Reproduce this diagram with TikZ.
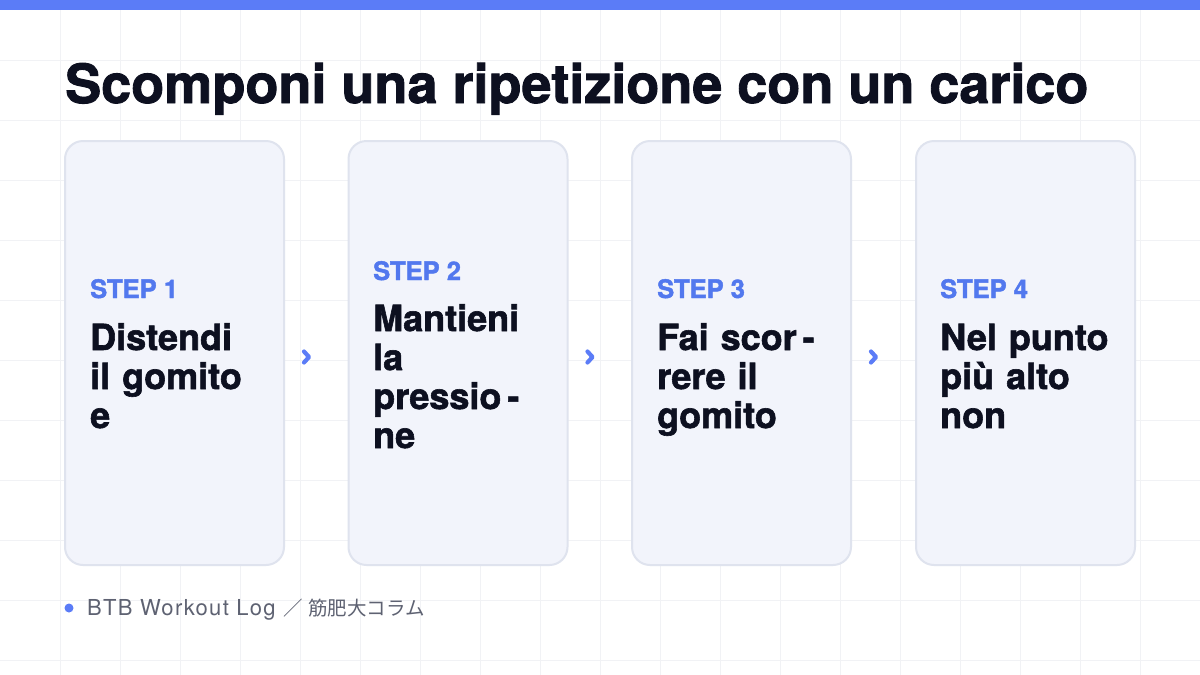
\documentclass[tikz,border=0pt]{standalone}
\usepackage{fontspec}
\setmainfont{TeX Gyre Heros}[BoldFeatures={FakeBold=1.6}]
\newfontfamily\footfont{TeX Gyre Heros}[LetterSpace=6]
\newfontfamily\cjkfont{Noto Sans CJK JP}
\usetikzlibrary{calc}
\definecolor{topblue}{HTML}{5B7CF7}
\definecolor{stepblue}{HTML}{5278EE}
\definecolor{titleink}{HTML}{0D1020}
\definecolor{cardfill}{HTML}{F2F4FB}
\definecolor{cardline}{HTML}{DFE3EE}
\definecolor{gridline}{HTML}{F1F2F5}
\definecolor{footink}{HTML}{5E6272}
\tikzset{
  card/.style={draw=cardline, line width=2pt, fill=cardfill, rounded corners=18pt,
    minimum width=219pt, minimum height=424pt, inner sep=0pt},
  steplabel/.style={anchor=base west, inner sep=0pt, text=stepblue,
    font=\fontsize{25.5}{28}\selectfont\bfseries},
  stepbody/.style={anchor=base west, inner sep=0pt, text=titleink, text width=210pt,
    align=left, font=\fontsize{36}{39}\selectfont\bfseries},
  chev/.style={draw=topblue, line width=4.2pt, line cap=round, line join=round},
}
\begin{document}
\begin{tikzpicture}[x=1pt,y=-1pt]
\useasboundingbox (0,0) rectangle (1200,675);
\fill[white] (0,0) rectangle (1200,675);
% grid
\foreach \gx in {60,120,...,1180} \draw[gridline, line width=0.8pt] (\gx,10) -- (\gx,675);
\foreach \gy in {60,120,...,660} \draw[gridline, line width=0.8pt] (0,\gy) -- (1200,\gy);
% top bar
\fill[topblue] (0,0) rectangle (1200,10);
% title
\node[anchor=base west, inner sep=0pt, text=titleink, font=\fontsize{54}{60}\selectfont\bfseries]
  (title) at (65,103) {Scomponi una ripetizione con un carico};
% cards
\foreach \i/\cx in {1/174.5,2/458,3/741.5,4/1025.5}
  \node[card] (c\i) at (\cx,353) {};
% texts
\node[steplabel] (s1) at (90,298) {STEP 1};
\node[stepbody] (b1) at (90,350) {Distendi\\il gomito\\e};
\node[steplabel] (s2) at (373,280) {STEP 2};
\node[stepbody] (b2) at (373,331) {Mantieni\\la\\pressio\,-\\ne};
\node[steplabel] (s3) at (657,298) {STEP 3};
\node[stepbody] (b3) at (657,350) {Fai scor\,-\\rere il\\gomito};
\node[steplabel] (s4) at (940,298) {STEP 4};
\node[stepbody] (b4) at (940,350) {Nel punto\\più alto\\non};
% chevrons
\foreach \i in {1,2,3} {
  \coordinate (k\i) at ($(c\i.east)+(24,4)$);
  \draw[chev] ($(k\i)+(-5,-5.5)$) -- (k\i) -- ($(k\i)+(-5,5.5)$);
}
% footer
\fill[topblue] (69,608) circle (4.5pt);
\node[anchor=base west, inner sep=0pt, text=footink, font=\fontsize{22}{24}\selectfont]
  (foot) at (87,615) {\footfont BTB Workout Log\hspace{8pt}{\cjkfont\fontsize{19.5}{24}\selectfont ／\hspace{5pt}筋肥大コラム}};
\end{tikzpicture}
\end{document}
